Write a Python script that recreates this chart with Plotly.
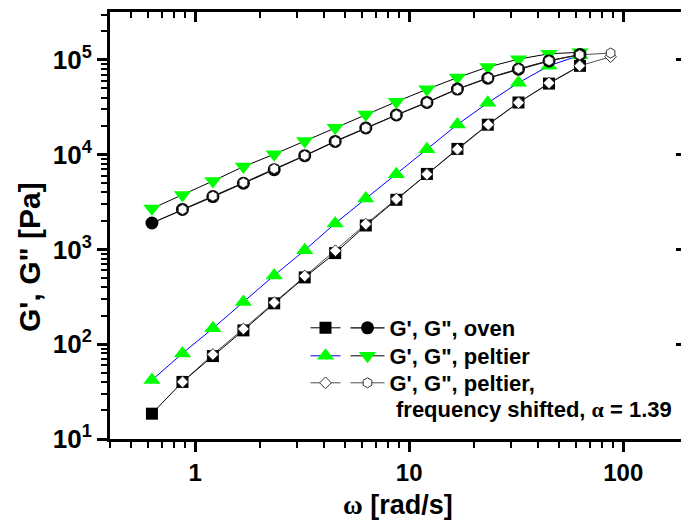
import plotly.graph_objects as go

# ---- data ----
omega = [0.628, 0.872, 1.21, 1.68, 2.34, 3.25, 4.51, 6.27, 8.71, 12.1, 16.8, 23.3, 32.4, 45.0, 62.8]
G1_oven = [18.5, 40, 75, 140, 270, 507, 915, 1790, 3340, 6260, 11500, 20700, 35500, 56200, 86500]
G2_oven = [1900, 2640, 3610, 4990, 6950, 9750, 13800, 19100, 26200, 35600, 49200, 64100, 79800, 97500, 114000]
G1_pelt = [41.8, 80, 147, 279, 532, 980, 1880, 3440, 6200, 11400, 20800, 35200, 57300, 86500, 112000]
G2_pelt = [2700, 3750, 5270, 7480, 10100, 13900, 19200, 26500, 36200, 48900, 65000, 84000, 101700, 116000, 120000]
omega_shift = [0.873, 1.21, 1.68, 2.34, 3.25, 4.52, 6.27, 8.71, 12.1, 16.8, 23.4, 32.4, 45.0, 62.6, 87.3]
G1_shift = [40, 78, 145, 275, 525, 970, 1850, 3400, 6200, 11400, 20700, 35300, 57000, 86500, 108000]
G2_shift = [2640, 3650, 5050, 7100, 9800, 13800, 19100, 26200, 35600, 49000, 64500, 80500, 98000, 113000, 118000]

y_tickvals = [10, 100, 1000, 10000, 100000]
y_ticktext = ["10<sup>1</sup>", "10<sup>2</sup>", "10<sup>3</sup>", "10<sup>4</sup>", "10<sup>5</sup>"]
x_tickvals = [1, 10, 100]
x_ticktext = ["1", "10", "100"]

legend_names = ["G', G\", oven", "G', G\", peltier", "G', G\", peltier,"]
extra_text = "frequency shifted, <span style='font-family:Liberation Serif'>\u03b1</span> = 1.39"
x_title = "<span style='font-family:Liberation Serif'>\u03c9</span> [rad/s]"
y_title = "G', G\" [Pa]"

# ---- layout geometry ----
W, H = 681, 524
ML, MR, MT, MB = 110, 0, 12, 85
PW, PH = W - ML - MR, H - MT - MB


def px(xp):
    return (xp - ML) / PW


def py(yp):
    return (H - MB - yp) / PH


FONT = "Liberation Sans, Arial, sans-serif"
GREEN = "#00ff00"
LEG_FONT = dict(family=FONT, size=22, weight="bold", color="black")

fig = go.Figure()

# peltier
fig.add_trace(go.Scatter(x=omega, y=G1_pelt, mode="lines+markers", name="",
                         line=dict(color="#0000ff", width=1),
                         marker=dict(symbol="triangle-up", size=15, color=GREEN),
                         legend="legend3"))
fig.add_trace(go.Scatter(x=omega, y=G2_pelt, mode="lines+markers", name=legend_names[1],
                         line=dict(color="black", width=1),
                         marker=dict(symbol="triangle-down", size=15, color=GREEN),
                         legend="legend4"))
# oven
fig.add_trace(go.Scatter(x=omega, y=G1_oven, mode="lines+markers", name="",
                         line=dict(color="black", width=1),
                         marker=dict(symbol="square", size=12, color="black"),
                         legend="legend"))
fig.add_trace(go.Scatter(x=omega, y=G2_oven, mode="lines+markers", name=legend_names[0],
                         line=dict(color="black", width=1.2),
                         marker=dict(symbol="circle", size=13, color="black"),
                         legend="legend2"))
# shifted
fig.add_trace(go.Scatter(x=omega_shift, y=G1_shift, mode="lines+markers", name="",
                         line=dict(color="#222222", width=0.8),
                         marker=dict(symbol="diamond", size=9, color="white",
                                     line=dict(color="#333333", width=1)),
                         legend="legend5"))
fig.add_trace(go.Scatter(x=omega_shift, y=G2_shift, mode="lines+markers", name=legend_names[2],
                         line=dict(color="#222222", width=0.8),
                         marker=dict(symbol="hexagon", size=10, color="white",
                                     line=dict(color="#333333", width=1)),
                         legend="legend6"))

# helper empty traces so the mirror axes are drawn
fig.add_trace(go.Scatter(x=[], y=[], xaxis="x2", yaxis="y", showlegend=False, hoverinfo="skip"))
fig.add_trace(go.Scatter(x=[], y=[], xaxis="x", yaxis="y2", showlegend=False, hoverinfo="skip"))

xr = [-0.398, 2.27]
yr = [1, 5.505]

common_x = dict(type="log", range=xr, showgrid=False, zeroline=False,
                showline=True, linewidth=3, linecolor="black",
                tickwidth=2.5, tickcolor="black")
common_y = dict(type="log", range=yr, showgrid=False, zeroline=False,
                tickwidth=2.5, tickcolor="black")


def leg(xp, yp, iw=30):
    return dict(x=px(xp), y=py(yp), xanchor="left", yanchor="top",
                bgcolor="rgba(0,0,0,0)", borderwidth=0, itemwidth=iw, font=LEG_FONT)


COL1, COL2 = 305.5, 345.5
ROWS = [327, 355, 382]
OFF = 20

fig.update_layout(
    width=W, height=H, autosize=False,
    margin=dict(l=ML, r=MR, t=MT, b=MB, pad=0),
    paper_bgcolor="white", plot_bgcolor="white",
    font=dict(family=FONT, color="black"),
    xaxis=dict(**common_x, side="bottom", ticks="outside", ticklen=10,
               tickmode="array", tickvals=x_tickvals, ticktext=x_ticktext,
               tickfont=dict(family=FONT, size=24, weight="bold", color="black"),
               minor=dict(dtick="D1", ticks="outside", ticklen=6, tickwidth=2, tickcolor="black",
                          showgrid=False)),
    xaxis2=dict(**common_x, side="top", overlaying="x", matches="x", anchor="y",
                ticks="inside", ticklen=10, showticklabels=False,
                tickmode="array", tickvals=x_tickvals,
                minor=dict(dtick="D1", ticks="inside", ticklen=6, tickwidth=2, tickcolor="black",
                           showgrid=False)),
    yaxis=dict(**common_y, side="left", showline=True, linewidth=3, linecolor="black",
               ticks="outside", ticklen=10,
               tickmode="array", tickvals=y_tickvals, ticktext=y_ticktext,
               tickfont=dict(family=FONT, size=26, weight="bold", color="black"),
               minor=dict(dtick="D1", ticks="outside", ticklen=6, tickwidth=2, tickcolor="black",
                          showgrid=False)),
    yaxis2=dict(**common_y, side="right", overlaying="y", matches="y", anchor="x",
                showline=False, ticks="inside", ticklen=5, showticklabels=False,
                tickmode="array", tickvals=y_tickvals),
    legend=leg(COL1, ROWS[0] - OFF),
    legend2=leg(COL2, ROWS[0] - OFF, 34),
    legend3=leg(COL1, ROWS[1] - OFF),
    legend4=leg(COL2, ROWS[1] - OFF, 34),
    legend5=leg(COL1, ROWS[2] - OFF),
    legend6=leg(COL2, ROWS[2] - OFF, 34),
    showlegend=True,
)

fig.add_annotation(text=extra_text, xref="paper", yref="paper", x=px(394), y=py(409),
                   xanchor="left", yanchor="middle", showarrow=False,
                   font=dict(family=FONT, size=22, weight="bold", color="black"))
fig.add_annotation(text=x_title, xref="paper", yref="paper", x=px(398), y=py(505),
                   xanchor="center", yanchor="middle", showarrow=False,
                   font=dict(family=FONT, size=27, weight="bold", color="black"))
fig.add_annotation(text=y_title, xref="paper", yref="paper", x=px(29), y=py(257),
                   xanchor="center", yanchor="middle", showarrow=False, textangle=-90,
                   font=dict(family=FONT, size=30, weight="bold", color="black"))

fig.write_html("out.html")
